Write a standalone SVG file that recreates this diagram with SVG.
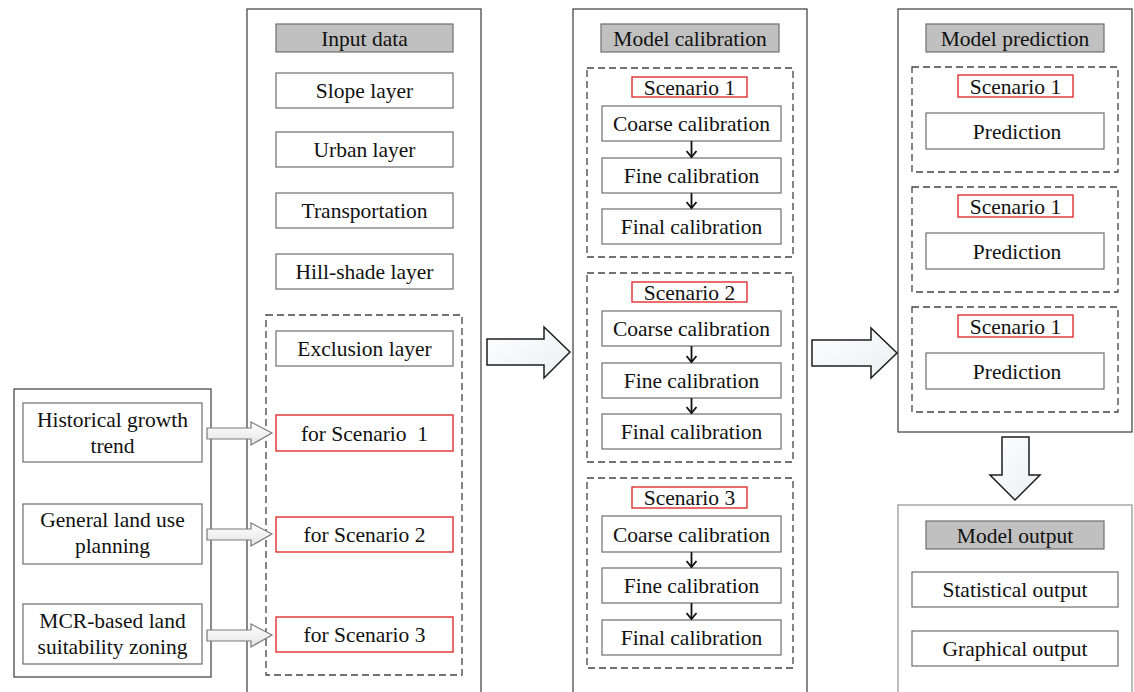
<svg xmlns="http://www.w3.org/2000/svg" width="1134" height="692" viewBox="0 0 1134 692">
<defs>
<linearGradient id="gBig" x1="0" y1="0" x2="1" y2="1"><stop offset="0" stop-color="#ffffff"/><stop offset="1" stop-color="#eceef2"/></linearGradient>
<linearGradient id="gSmall" x1="0" y1="0" x2="0" y2="1"><stop offset="0" stop-color="#ffffff"/><stop offset="1" stop-color="#e4e4e4"/></linearGradient>
<marker id="vhead" viewBox="0 0 12 12" refX="10" refY="6" markerWidth="12" markerHeight="12" markerUnits="userSpaceOnUse" orient="auto">
<path d="M4,1 L10,6 L4,11" fill="none" stroke="#111" stroke-width="1.8"/>
</marker>
<style>
.panel{fill:#fff;stroke:#4a4a4a;stroke-width:1.3}
.panel2{fill:#fff;stroke:#9a9a9a;stroke-width:1.3}
.hdr{fill:#c0c0c0;stroke:#6e6e6e;stroke-width:1.2}
.box{fill:#fff;stroke:#6e6e6e;stroke-width:1.2}
.red{fill:#fff;stroke:#e03030;stroke-width:1.4}
.dash{fill:none;stroke:#444;stroke-width:1.3;stroke-dasharray:7 4}
.t{font-family:"Liberation Serif","Times New Roman",serif;font-size:21.5px;fill:#111;text-anchor:middle}
.big{fill:url(#gBig);stroke:#1e1e1e;stroke-width:1.5;stroke-linejoin:miter}
.small{fill:url(#gSmall);stroke:#7a7a7a;stroke-width:1.2}
.ln{stroke:#111;stroke-width:1.8;fill:none}
</style>
</defs>
<rect width="1134" height="692" fill="#fff"/>

<g id="factors">
<rect class="panel" x="14" y="389" width="197" height="288"/>
<g id="historical"><rect class="box" x="23" y="403" width="179" height="59"/><text class="t" x="112.5" y="427">Historical growth</text><text class="t" x="112.5" y="453">trend</text></g>
<g id="general"><rect class="box" x="23" y="504" width="179" height="60"/><text class="t" x="112.5" y="527">General land use</text><text class="t" x="112.5" y="553">planning</text></g>
<g id="mcr"><rect class="box" x="23" y="604" width="179" height="60"/><text class="t" x="112.5" y="628">MCR-based land</text><text class="t" x="112.5" y="654">suitability zoning</text></g>
</g>

<g id="input-data">
<rect class="panel" x="247" y="9" width="234" height="700"/>
<g id="input-header"><rect class="hdr" x="276" y="24" width="177" height="28"/><text class="t" x="364.5" y="45.5">Input data</text></g>
<g id="slope"><rect class="box" x="276" y="73" width="177" height="35"/><text class="t" x="364.5" y="98">Slope layer</text></g>
<g id="urban"><rect class="box" x="276" y="132" width="177" height="35"/><text class="t" x="364.5" y="157">Urban layer</text></g>
<g id="transport"><rect class="box" x="276" y="193" width="177" height="35"/><text class="t" x="364.5" y="218">Transportation</text></g>
<g id="hillshade"><rect class="box" x="276" y="254" width="177" height="35"/><text class="t" x="364.5" y="279">Hill-shade layer</text></g>
<g id="exclusion-group">
<rect class="dash" x="266" y="315" width="196" height="360"/>
<g id="exclusion"><rect class="box" x="276" y="331" width="177" height="35"/><text class="t" x="364.5" y="356">Exclusion layer</text></g>
<g id="for-s1"><rect class="red" x="276" y="415" width="177" height="36"/><text class="t" x="364.5" y="440.5" xml:space="preserve">for Scenario  1</text></g>
<g id="for-s2"><rect class="red" x="276" y="517" width="177" height="35"/><text class="t" x="364.5" y="542">for Scenario 2</text></g>
<g id="for-s3"><rect class="red" x="276" y="617" width="177" height="35"/><text class="t" x="364.5" y="642">for Scenario 3</text></g>
</g>
</g>

<g id="calibration">
<rect class="panel" x="573" y="9" width="234" height="700"/>
<g id="cal-header"><rect class="hdr" x="601" y="24" width="178" height="28"/><text class="t" x="690" y="45.5">Model calibration</text></g>
<g id="cal-s1">
<rect class="dash" x="587" y="68" width="206" height="189"/>
<rect class="red" x="632" y="77" width="115" height="20"/><text class="t" x="689.5" y="94.5">Scenario 1</text>
<rect class="box" x="602" y="106" width="179" height="35"/><text class="t" x="691.5" y="131">Coarse calibration</text>
<rect class="box" x="602" y="158" width="179" height="35"/><text class="t" x="691.5" y="183">Fine calibration</text>
<rect class="box" x="602" y="209" width="179" height="35"/><text class="t" x="691.5" y="234">Final calibration</text>
</g>
<g id="cal-s2">
<rect class="dash" x="587" y="273" width="206" height="189"/>
<rect class="red" x="632" y="282" width="115" height="20"/><text class="t" x="689.5" y="299.5">Scenario 2</text>
<rect class="box" x="602" y="311" width="179" height="35"/><text class="t" x="691.5" y="336">Coarse calibration</text>
<rect class="box" x="602" y="363" width="179" height="35"/><text class="t" x="691.5" y="388">Fine calibration</text>
<rect class="box" x="602" y="414" width="179" height="35"/><text class="t" x="691.5" y="439">Final calibration</text>
</g>
<g id="cal-s3">
<rect class="dash" x="587" y="478" width="206" height="190"/>
<rect class="red" x="632" y="487" width="115" height="21"/><text class="t" x="689.5" y="505">Scenario 3</text>
<rect class="box" x="602" y="516" width="179" height="36"/><text class="t" x="691.5" y="541.5">Coarse calibration</text>
<rect class="box" x="602" y="568" width="179" height="35"/><text class="t" x="691.5" y="593">Fine calibration</text>
<rect class="box" x="602" y="620" width="179" height="35"/><text class="t" x="691.5" y="645">Final calibration</text>
</g>
</g>

<g id="prediction">
<rect class="panel" x="898" y="9" width="234" height="423"/>
<g id="pred-header"><rect class="hdr" x="926" y="24" width="178" height="28"/><text class="t" x="1015" y="45.5">Model prediction</text></g>
<g id="pred-1">
<rect class="dash" x="912" y="67" width="206" height="105"/>
<rect class="red" x="958" y="75" width="115" height="22"/><text class="t" x="1015.5" y="93.5">Scenario 1</text>
<rect class="box" x="926" y="113" width="178" height="36"/><text class="t" x="1017" y="138.5">Prediction</text>
</g>
<g id="pred-2">
<rect class="dash" x="912" y="187" width="206" height="105"/>
<rect class="red" x="958" y="195" width="115" height="22"/><text class="t" x="1015.5" y="213.5">Scenario 1</text>
<rect class="box" x="926" y="233" width="178" height="36"/><text class="t" x="1017" y="258.5">Prediction</text>
</g>
<g id="pred-3">
<rect class="dash" x="912" y="307" width="206" height="105"/>
<rect class="red" x="958" y="315" width="115" height="22"/><text class="t" x="1015.5" y="333.5">Scenario 1</text>
<rect class="box" x="926" y="353" width="178" height="36"/><text class="t" x="1017" y="378.5">Prediction</text>
</g>
</g>

<g id="output">
<rect class="panel2" x="898" y="505" width="234" height="200"/>
<g id="out-header"><rect class="hdr" x="926" y="521" width="178" height="28"/><text class="t" x="1015" y="542.5">Model output</text></g>
<g id="statistical"><rect class="box" x="912" y="572" width="206" height="35"/><text class="t" x="1015" y="597">Statistical output</text></g>
<g id="graphical"><rect class="box" x="912" y="631" width="206" height="35"/><text class="t" x="1015" y="656">Graphical output</text></g>
</g>

<g id="connectors">
<polygon class="small" points="207,428 251,428 251,422 272,433 251,445 251,439 207,439"/>
<polygon class="small" points="207,529 251,529 251,523 272,534 251,546 251,540 207,540"/>
<polygon class="small" points="207,630 251,630 251,624 272,635 251,647 251,641 207,641"/>
<polygon class="big" points="487,339 544,339 544,327 570,352 544,378 544,365 487,365"/>
<polygon class="big" points="812,340 871,340 871,328 897,353 871,378 871,366 812,366"/>
<polygon class="big" points="1002,437 1029,437 1029,475 1040,475 1015,500 990,475 1002,475"/>
<line class="ln" x1="691.5" y1="141" x2="691.5" y2="157" marker-end="url(#vhead)"/>
<line class="ln" x1="691.5" y1="193" x2="691.5" y2="208" marker-end="url(#vhead)"/>
<line class="ln" x1="691.5" y1="346" x2="691.5" y2="362" marker-end="url(#vhead)"/>
<line class="ln" x1="691.5" y1="398" x2="691.5" y2="413" marker-end="url(#vhead)"/>
<line class="ln" x1="691.5" y1="552" x2="691.5" y2="567" marker-end="url(#vhead)"/>
<line class="ln" x1="691.5" y1="603" x2="691.5" y2="619" marker-end="url(#vhead)"/>
</g>
</svg>
